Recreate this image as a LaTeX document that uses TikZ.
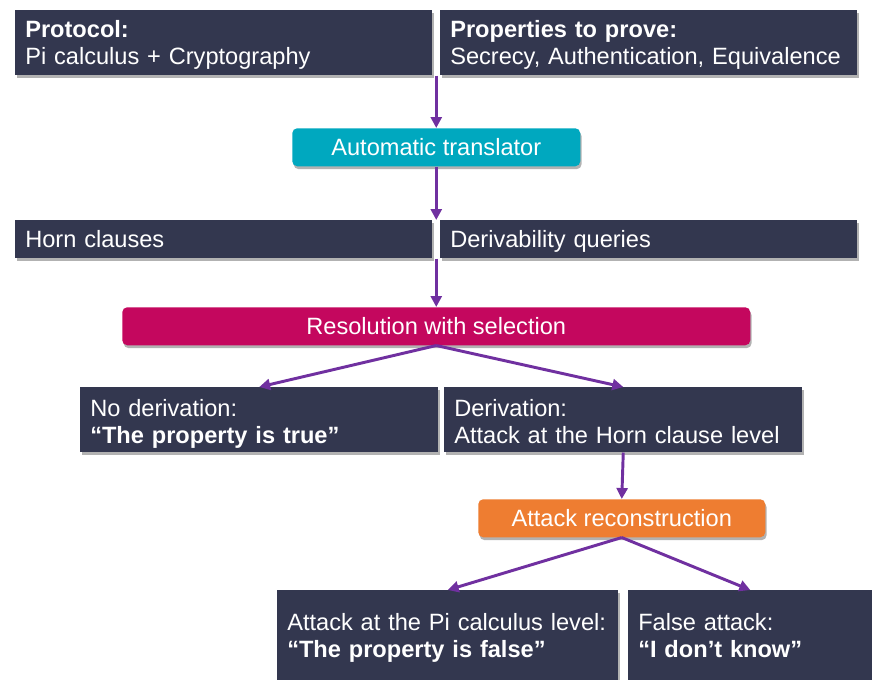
\documentclass[tikz,border=0pt]{standalone}
\usepackage{fontspec}
\setmainfont{Liberation Sans}
\usetikzlibrary{
  arrows.meta,
  positioning,
  calc,
  shadows
}
\definecolor{pvDark}{HTML}{33374F}
\definecolor{pvCyan}{HTML}{00A8BF}
\definecolor{pvMagenta}{HTML}{C4075E}
\definecolor{pvOrange}{HTML}{EE7D31}
\definecolor{pvArrow}{HTML}{7030A0}
\newdimen\pxu \pxu=0.75pt
\tikzset{
  pvnode/.style={
    rectangle, text=white, font=\fontsize{17.7}{20.3}\selectfont, inner ysep=0pt,
    anchor=north west, text height=20.25pt, text depth=8.25pt,
    drop shadow={shadow xshift=1pt, shadow yshift=-2.2pt, opacity=0.3, fill=black}
  },
  darkbox/.style={pvnode, fill=pvDark, align=left, inner xsep=10\pxu},
  stepbox/.style={pvnode, rounded corners=5\pxu, minimum height=38\pxu, align=center},
  toprow/.style={darkbox, text width=397\pxu, minimum height=65\pxu, text depth=28.5pt},
  hornrow/.style={darkbox, text width=397\pxu, minimum height=38\pxu},
  midrow/.style={darkbox, text width=338\pxu, minimum height=65\pxu, text height=21.75pt, text depth=27pt},
  lowrow/.style={darkbox, minimum height=90\pxu, text height=30pt, text depth=37.5pt},
  flow/.style={-{Triangle[length=8.2pt, width=8.2pt]}, line width=2.2pt, pvArrow}
}
\begin{document}
\begin{tikzpicture}[x=0.75pt, y=-0.75pt]
  \fill[white] (0,0) rectangle (872,680);
  \useasboundingbox (0,0) rectangle (872,680);
  % inputs
  \node[toprow] (proto) at (15,10) {\textbf{Protocol:}\\Pi calculus + Cryptography};
  \node[toprow] (props) at (440,10) {\textbf{Properties to prove:}\\Secrecy, Authentication, Equivalence};
  \node[stepbox, fill=pvCyan, minimum width=288\pxu] (trans) at (292,128) {Automatic translator};
  \node[hornrow] (horn) at (15,220) {Horn clauses};
  \node[hornrow] (query) at (440,220) {Derivability queries};
  \node[stepbox, fill=pvMagenta, minimum width=628\pxu] (res) at (122,307) {Resolution with selection};
  % outcomes
  \node[midrow] (nod) at (80,387) {No derivation:\\\textbf{“The property is true”}};
  \node[midrow] (der) at (444,387) {Derivation:\\Attack at the Horn clause level};
  \node[stepbox, fill=pvOrange, minimum width=287\pxu, minimum height=37\pxu] (rec) at (478,499) {Attack reconstruction};
  \node[lowrow, text width=321\pxu] (pifalse) at (277,590) {Attack at the Pi calculus level:\\\textbf{“The property is false”}};
  \node[lowrow, text width=224\pxu] (dunno) at (628,590) {False attack:\\\textbf{“I don’t know”}};
  % connectors
  \coordinate (j1) at ($(proto.south east)!0.5!(props.south west)$);
  \coordinate (j2) at ($(horn.south east)!0.5!(query.south west)$);
  \draw[flow] (j1) -- (trans.north);
  \draw[flow] (trans.south) -- (trans.south |- horn.north);
  \draw[flow] (j2) -- (res.north);
  \draw[flow] (res.south) -- (nod.north);
  \draw[flow] (res.south) -- (der.north);
  \draw[flow] (der.south) -- (rec.north);
  \draw[flow] (rec.south) -- (pifalse.north);
  \draw[flow] (rec.south) -- (dunno.north);
\end{tikzpicture}
\end{document}
